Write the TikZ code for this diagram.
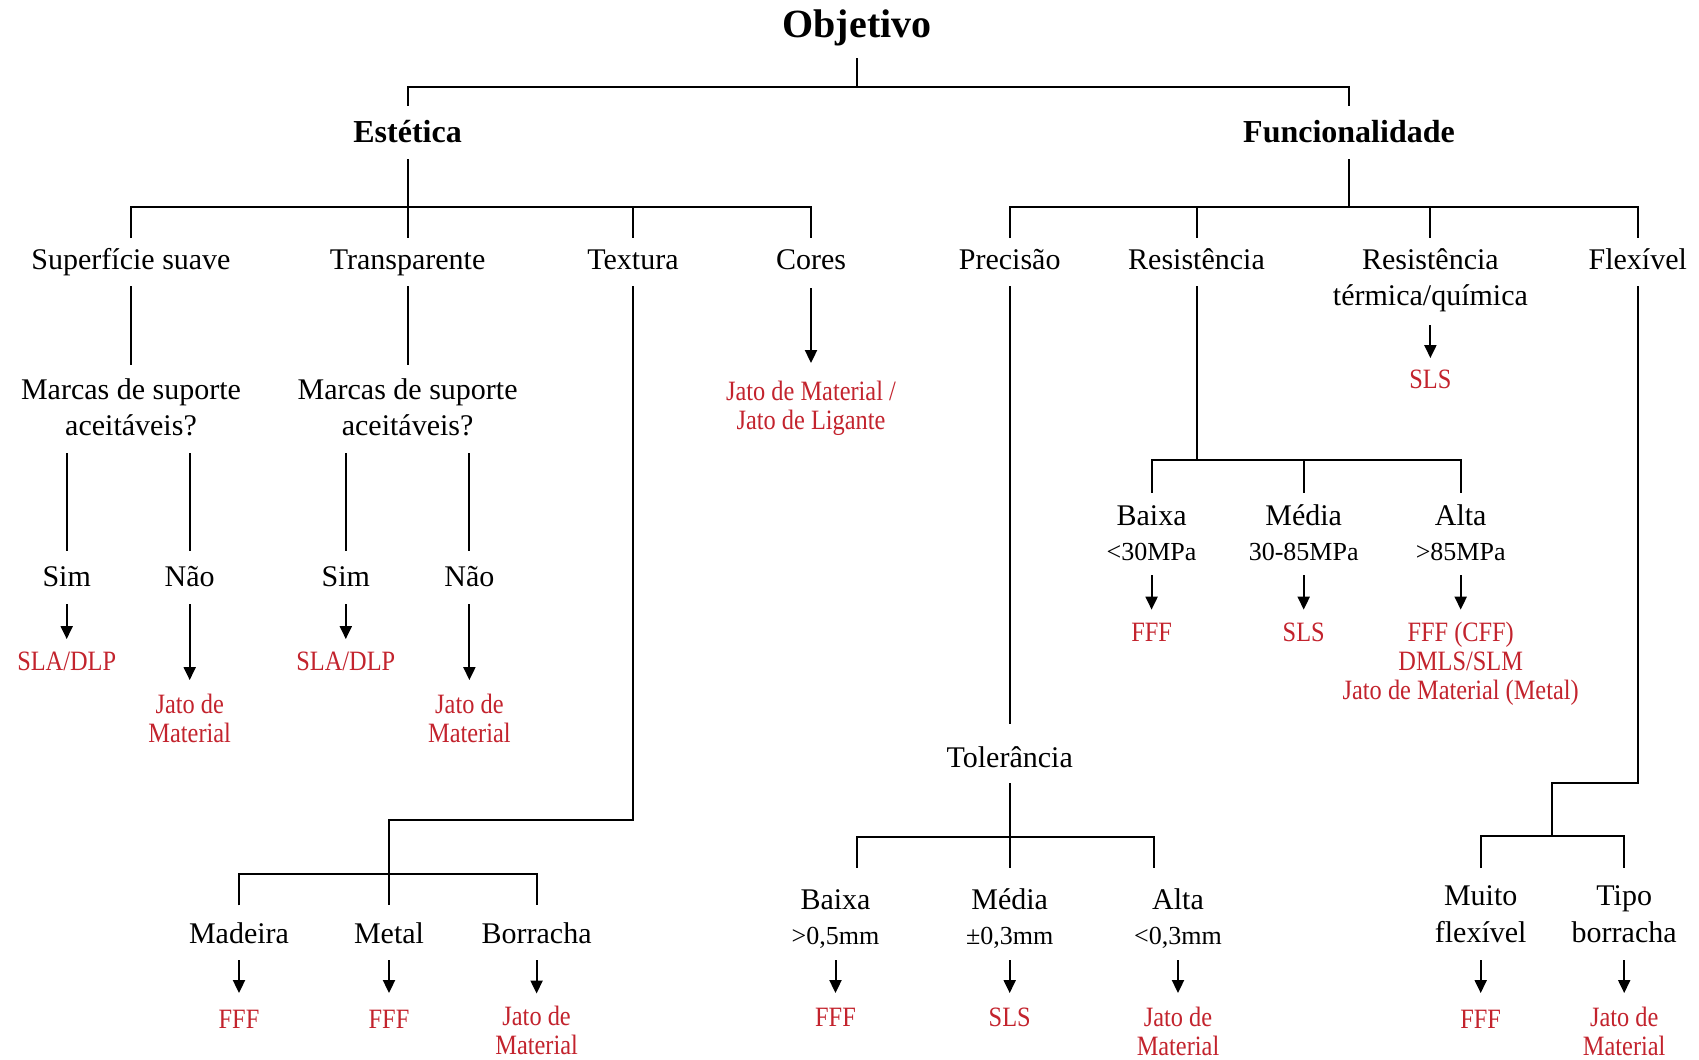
\documentclass[tikz,border=0pt]{standalone}
\usepackage{fontspec}
\setmainfont{Liberation Serif}
\newfontfamily\redfont[FakeStretch=0.87]{Liberation Serif}
\usetikzlibrary{arrows.meta}
\definecolor{resred}{RGB}{195,35,45}
\newcommand\st{\rule[-0.24em]{0pt}{0.96em}}
\newcommand\subl[1]{{\fontsize{13}{17}\selectfont\st#1}}
\begin{document}
\begin{tikzpicture}[x=0.5pt,y=-0.5pt,
  lbl/.style={font=\fontsize{15}{18}\selectfont, align=center, inner sep=0pt, outer sep=0pt},
  lbltwo/.style={lbl, font=\fontsize{15}{18.5}\selectfont},
  head/.style={lbl, font=\bfseries\fontsize{16}{19}\selectfont, text height=11.52pt, text depth=3.84pt},
  ttl/.style={lbl, font=\bfseries\fontsize{20}{24}\selectfont, text height=14.4pt, text depth=4.8pt},
  res/.style={lbl, text=resred, font=\redfont\fontsize{14}{14.5}\selectfont},
  ln/.style={line width=1pt},
  arr/.style={ln, -{Triangle[length=6.5pt,width=6pt]}},
]
\fill[white] (0,0) rectangle (1699,1060);
\useasboundingbox (0,0) rectangle (1699,1060);

% ---------- nodes ----------
\node[ttl]  (obj) at (857,27.4) {Objetivo};
\node[head] (est) at (407.6,135.3) {Estética};
\node[head] (fun) at (1349,135.3) {Funcionalidade};

\node[lbl] (sup) at (131,261.8)    {\st Superfície suave};
\node[lbl] (tra) at (407.6,261.8)  {\st Transparente};
\node[lbl] (tex) at (633,261.8)    {\st Textura};
\node[lbl] (cor) at (811,261.8)    {\st Cores};
\node[lbl] (pre) at (1009.7,261.8) {\st Precisão};
\node[lbl] (rsi) at (1196.5,261.8) {\st Resistência};
\node[lbl] (rtq) at (1430.4,279.8) {\st Resistência\\\st térmica/química};
\node[lbl] (flx) at (1637.8,261.8) {\st Flexível};

\node[lbl] (mar1) at (131,409.8)   {\st Marcas de suporte\\\st aceitáveis?};
\node[lbl] (mar2) at (407.6,409.8) {\st Marcas de suporte\\\st aceitáveis?};

\node[lbl] (sim1) at (66.7,578.8)  {\st Sim};
\node[lbl] (nao1) at (189.7,578.8) {\st Não};
\node[lbl] (sim2) at (345.8,578.8) {\st Sim};
\node[lbl] (nao2) at (469.4,578.8) {\st Não};

\node[res] (sla1) at (66.7,663.3)  {\st SLA/DLP};
\node[res] (jm1)  at (189.7,720.8) {\st Jato de\\\st Material};
\node[res] (sla2) at (345.8,663.3) {\st SLA/DLP};
\node[res] (jm2)  at (469.4,720.8) {\st Jato de\\\st Material};

\node[res] (corr) at (811,407.8) {\st Jato de Material /\\\st Jato de Ligante};

% Textura branch
\coordinate (tcor) at (389,820);
\coordinate (tbar) at (389,874);
\node[lbl] (mad) at (239,935.8)   {\st Madeira};
\node[lbl] (met) at (389,935.8)   {\st Metal};
\node[lbl] (bor) at (536.6,935.8) {\st Borracha};
\node[res] (madr) at (239,1021.3)   {\st FFF};
\node[res] (metr) at (389,1021.3)   {\st FFF};
\node[res] (borr) at (536.6,1033.3) {\st Jato de\\\st Material};

% Precisao branch
\node[lbl] (tol) at (1009.7,759.8) {\st Tolerância};
\coordinate (tolbar) at (1009.7,837);
\coordinate (tolL) at (856.5,837);
\coordinate (tolR) at (1154.3,837);
\node[lbl] (tb) at (835.5,919.3)  {\st Baixa\\[-0.75pt]\subl{>0,5mm}};
\node[lbl] (tm) at (1009.7,919.3) {\st Média\\[-0.75pt]\subl{±0,3mm}};
\node[lbl] (ta) at (1178,919.3)   {\st Alta\\[-0.75pt]\subl{<0,3mm}};
\node[res] (tbr) at (835.5,1019.3)  {\st FFF};
\node[res] (tmr) at (1009.7,1019.3) {\st SLS};
\node[res] (tar) at (1178,1033.8)   {\st Jato de\\\st Material};

% Resistencia branch
\coordinate (rbar) at (1196.5,460);
\node[lbl] (rb) at (1151.6,535.8) {\st Baixa\\[-0.5pt]\subl{<30MPa}};
\node[lbl] (rm) at (1303.7,535.8) {\st Média\\[-0.5pt]\subl{30-85MPa}};
\node[lbl] (ra) at (1460.7,535.8) {\st Alta\\[-0.5pt]\subl{>85MPa}};
\node[res] (rbr) at (1151.6,634.3) {\st FFF};
\node[res] (rmr) at (1303.7,634.3) {\st SLS};
\node[res] (rar) at (1460.7,663.3) {\st FFF (CFF)\\\st DMLS/SLM\\\st Jato de Material (Metal)};

\node[res] (rtqr) at (1430.4,381.3) {\st SLS};

% Flexivel branch
\coordinate (fcor) at (1552,783);
\coordinate (fbar) at (1552,836);
\node[lbltwo] (mf) at (1480.7,916.3) {\st Muito\\\st flexível};
\node[lbltwo] (tp) at (1624.2,916.3) {\st Tipo\\\st borracha};
\node[res] (mfr) at (1480.7,1021.3) {\st FFF};
\node[res] (tpr) at (1624.2,1033.8) {\st Jato de\\\st Material};

% ---------- connectors ----------
\coordinate (b0) at (857,86.7);
\draw[ln, shorten <=5.7pt] (obj.south) -- (obj.south |- b0);
\draw[ln, shorten <=7pt, shorten >=7pt] (est.north) -- (est.north |- b0) -- (fun.north |- b0) -- (fun.north);

\coordinate (b1) at (407.6,207);
\draw[ln, shorten <=4.2pt] (est.south) -- (est.south |- b1);
\draw[ln, shorten <=4.7pt, shorten >=4.7pt] (sup.north) -- (sup.north |- b1) -- (cor.north |- b1) -- (cor.north);
\draw[ln, shorten >=4.7pt] (tra.north |- b1) -- (tra.north);
\draw[ln, shorten >=4.7pt] (tex.north |- b1) -- (tex.north);

\coordinate (b2) at (1349,207);
\draw[ln, shorten <=4.2pt] (fun.south) -- (fun.south |- b2);
\draw[ln, shorten <=4.7pt, shorten >=4.7pt] (pre.north) -- (pre.north |- b2) -- (flx.north |- b2) -- (flx.north);
\draw[ln, shorten >=4.7pt] (rsi.north |- b2) -- (rsi.north);
\draw[ln, shorten >=4.7pt] (rtq.north |- b2) -- (rtq.north);

% Superficie / Transparente
\draw[ln, shorten <=5pt, shorten >=6.2pt] (sup.south) -- (mar1.north);
\draw[ln, shorten <=5pt, shorten >=6.2pt] (tra.south) -- (mar2.north);
\draw[ln, shorten <=5.4pt, shorten >=6.7pt] (sim1.north |- mar1.south) -- (sim1.north);
\draw[ln, shorten <=5.4pt, shorten >=6.7pt] (nao1.north |- mar1.south) -- (nao1.north);
\draw[ln, shorten <=5.4pt, shorten >=6.7pt] (sim2.north |- mar2.south) -- (sim2.north);
\draw[ln, shorten <=5.4pt, shorten >=6.7pt] (nao2.north |- mar2.south) -- (nao2.north);
\draw[arr, shorten <=5.4pt, shorten >=5.4pt] (sim1.south) -- (sla1.north);
\draw[arr, shorten <=5.4pt, shorten >=6.4pt] (nao1.south) -- (jm1.north);
\draw[arr, shorten <=5.4pt, shorten >=5.4pt] (sim2.south) -- (sla2.north);
\draw[arr, shorten <=5.4pt, shorten >=6.4pt] (nao2.south) -- (jm2.north);

% Cores
\draw[arr, shorten <=5.9pt, shorten >=8.4pt] (cor.south) -- (corr.north);

% Textura
\draw[ln, shorten <=5pt] (tex.south) |- (tcor) -- (tbar);
\draw[ln, shorten <=8pt, shorten >=8pt] (mad.north) -- (mad.north |- tbar) -- (bor.north |- tbar) -- (bor.north);
\draw[ln, shorten >=8pt] (tbar) -- (met.north);
\draw[arr, shorten <=4.9pt, shorten >=7.4pt] (mad.south) -- (madr.north);
\draw[arr, shorten <=4.9pt, shorten >=7.4pt] (met.south) -- (metr.north);
\draw[arr, shorten <=4.9pt, shorten >=5.9pt] (bor.south) -- (borr.north);

% Precisao
\draw[ln, shorten <=5pt, shorten >=10.5pt] (pre.south) -- (tol.north);
\draw[ln, shorten <=4.4pt] (tol.south) -- (tolbar);
\draw[ln, shorten <=10.2pt, shorten >=10.2pt] (tolL |- tb.north) -- (tolL) -- (tolR) -- (tolR |- ta.north);
\draw[ln, shorten >=10.2pt] (tolbar) -- (tm.north);
\draw[arr, shorten <=4.9pt, shorten >=6.4pt] (tb.south) -- (tbr.north);
\draw[arr, shorten <=4.9pt, shorten >=6.4pt] (tm.south) -- (tmr.north);
\draw[arr, shorten <=4.9pt, shorten >=6.4pt] (ta.south) -- (tar.north);

% Resistencia
\draw[ln, shorten <=5pt] (rsi.south) -- (rbar);
\draw[ln, shorten <=5.7pt, shorten >=5.7pt] (rb.north) -- (rb.north |- rbar) -- (ra.north |- rbar) -- (ra.north);
\draw[ln, shorten >=5.7pt] (rm.north |- rbar) -- (rm.north);
\draw[arr, shorten <=3.9pt, shorten >=5.6pt] (rb.south) -- (rbr.north);
\draw[arr, shorten <=3.9pt, shorten >=5.6pt] (rm.south) -- (rmr.north);
\draw[arr, shorten <=3.9pt, shorten >=5.6pt] (ra.south) -- (rar.north);

% Resistencia termica/quimica
\draw[arr, shorten <=6.4pt, shorten >=4.9pt] (rtq.south) -- (rtqr.north);

% Flexivel
\draw[ln, shorten <=5pt] (flx.south) |- (fcor) -- (fbar);
\draw[ln, shorten <=7.7pt, shorten >=7.7pt] (mf.north) -- (mf.north |- fbar) -- (tp.north |- fbar) -- (tp.north);
\draw[arr, shorten <=5.4pt, shorten >=7.4pt] (mf.south) -- (mfr.north);
\draw[arr, shorten <=5.4pt, shorten >=6.4pt] (tp.south) -- (tpr.north);
\end{tikzpicture}
\end{document}
